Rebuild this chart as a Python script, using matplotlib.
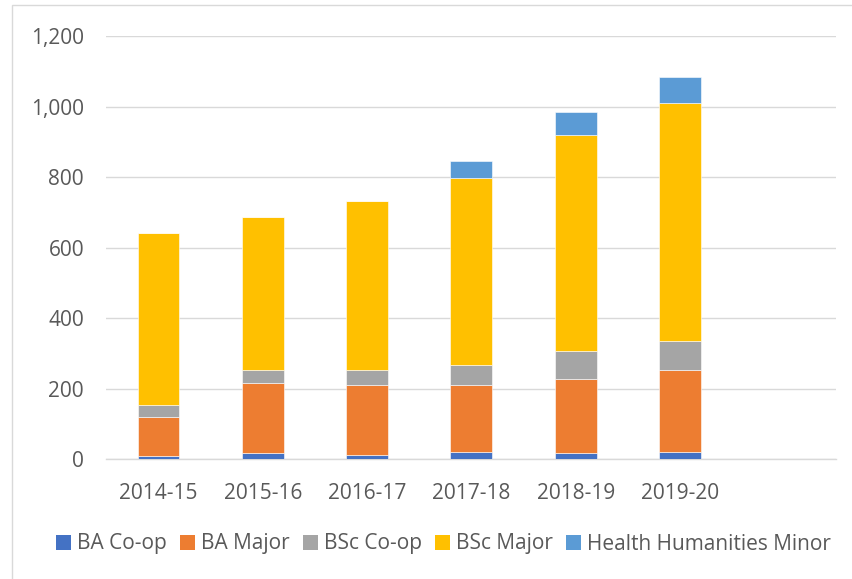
import matplotlib
matplotlib.use("Agg")
import matplotlib.pyplot as plt
from matplotlib.patches import Rectangle
import numpy as np

plt.rcParams['font.family'] = ['Open Sans', 'DejaVu Sans']

categories = ["2014-15", "2015-16", "2016-17", "2017-18", "2018-19", "2019-20", ""]
ba_coop = [8, 17, 13, 20, 19, 20, 0]
ba_major = [111, 199, 197, 192, 210, 232, 0]
bsc_coop = [34, 37, 43, 56, 77, 83, 0]
bsc_major = [490, 434, 480, 531, 614, 676, 0]
hh_minor = [0, 0, 0, 48, 65, 73, 0]

series_names = ["BA Co-op", "BA Major", "BSc Co-op", "BSc Major", "Health Humanities Minor"]
series_values = [ba_coop, ba_major, bsc_coop, bsc_major, hh_minor]
colors = ["#4472C4", "#ED7D31", "#A5A5A5", "#FFC000", "#5B9BD5"]

text_color = "#595959"
grid_color = "#D9D9D9"
fs = 15

fig = plt.figure(figsize=(8.53, 5.79), dpi=100)
ax = fig.add_axes([106.3/853, 1-459.3/579, (836.4-106.3)/853, (459.3-36.3)/579])

x = np.arange(len(categories))
bottom = np.zeros(len(categories))
for name, vals, c in zip(series_names, series_values, colors):
    v = np.array(vals, dtype=float)
    ax.bar(x, v, width=0.4, bottom=bottom, color=c, label=name,
           edgecolor="white", linewidth=0.4, zorder=3)
    bottom += v

ax.set_xlim(-0.5, len(categories) - 0.5)
ax.set_ylim(0, 1200)
ax.set_yticks(np.arange(0, 1201, 200))
ax.set_yticklabels([f"{int(t):,}" for t in np.arange(0, 1201, 200)])
ax.set_xticks(x)
ax.set_xticklabels(categories)

ax.yaxis.grid(True, color=grid_color, linewidth=1.0, zorder=0)
ax.set_axisbelow(True)
for s in ["top", "right", "left"]:
    ax.spines[s].set_visible(False)
ax.spines["bottom"].set_color(grid_color)
ax.spines["bottom"].set_linewidth(1.0)
ax.spines["bottom"].set_zorder(2)

ax.tick_params(axis="y", length=0, pad=16, labelsize=fs, labelcolor=text_color)
ax.tick_params(axis="x", length=0, pad=17, labelsize=fs, labelcolor=text_color)

handles = [Rectangle((0, 0), 1, 1, facecolor=c, edgecolor="none") for c in colors]
leg = fig.legend(handles, series_names, loc="center",
                 bbox_to_anchor=(443.6/853, 1-544/579), ncol=5,
                 frameon=False, fontsize=fs, handlelength=0.72, handleheight=0.72,
                 handletextpad=0.3, columnspacing=0.62, labelcolor=text_color,
                 borderaxespad=0, borderpad=0)

fig.patches.append(Rectangle((12/853, -0.1), 1.2, 0.1 + 1 - 5/579, fill=False,
                             edgecolor=grid_color, linewidth=1.0,
                             transform=fig.transFigure, clip_on=False))

fig.savefig("out.png", dpi=100)
